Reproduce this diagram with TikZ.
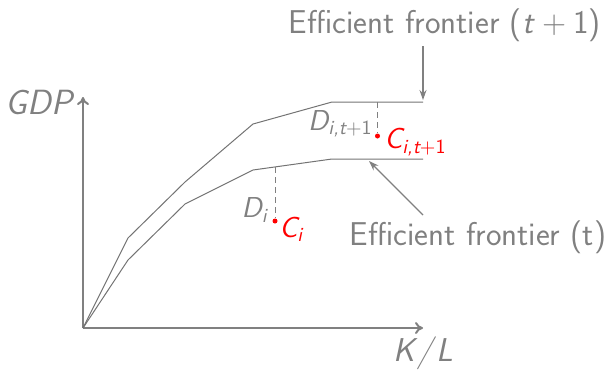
\documentclass[tikz,border=0pt]{standalone}
\usepackage{amsmath}
\usetikzlibrary{arrows.meta}
\definecolor{fg}{gray}{0.5}
\definecolor{ln}{gray}{0.45}
\tikzset{
  axis/.style={draw=fg, line width=1pt, -{To[length=4pt,width=6pt]}},
  frontier/.style={draw=ln, line width=0.5pt},
  drop/.style={draw=fg, line width=0.4pt, dash pattern=on 3pt off 2pt},
  pointer/.style={draw=fg, line width=0.6pt, -{Stealth[length=5pt,width=3.5pt]}},
  big/.style={text=fg, font=\sffamily\fontsize{16.5}{18}\selectfont, inner sep=0pt},
  small/.style={font=\sffamily\fontsize{14.4}{16}\selectfont, inner sep=0pt},
  dot/.style={circle, fill=red, inner sep=0pt, minimum size=2.5pt}
}
\begin{document}
\begin{tikzpicture}[x=0.5pt,y=-0.5pt]
\useasboundingbox (0,0) rectangle (608,370);
% axes
\coordinate (O) at (83,328);
\coordinate (Ytop) at (83,97);
\coordinate (Xend) at (423,328);
\draw[axis] (O) -- (Ytop);
\draw[axis] (O) -- (Xend);
\node[big, font=\sffamily\fontsize{17.5}{19}\selectfont] (gdp) at (39,102) {\itshape GDP};
\node[big] (kl) at (423,353) {\itshape K\kern1.5pt/\kern1.5pt L};
% frontiers
\draw[frontier] (O) -- (128,238) -- (185,182) -- (253,124) -- (332,102) -- (423,102) coordinate (U);
\draw[frontier] (O) -- (128,260) -- (185,204) -- (253,170) -- (332,159) -- (423,159) coordinate (L);
% points
\coordinate (du) at (377.5,102);
\node[dot] (cu) at (377.5,136) {};
\draw[drop] (du) -- (cu);
\coordinate (dl) at (275,167);
\node[dot] (cl) at (275,221) {};
\draw[drop] (dl) -- (cl);
\node[small, text=fg, anchor=east] (Dut) at (373,124) {$\textit{D}_{\text{\itshape i,t}\text{+1}}$};
\node[small, text=red, anchor=west] (Cut) at (384,142) {$\textit{C}_{\text{\itshape i,t}\text{+1}}$};
\node[small, text=fg, anchor=east] (Di) at (268,210) {$\textit{D}_{\text{\itshape i}}$};
\node[small, text=red, anchor=west] (Ci) at (279,229) {$\textit{C}_{\text{\itshape i}}$};
% labels
\node[big] (ft1) at (445,25) {Efficient frontier (\textit{t}\kern0.22em+\kern0.22em1)};
\node[big] (ft) at (478,237) {Efficient frontier (t)};
\coordinate (tipU) at (423,100);
\coordinate (tipL) at (369,161);
\draw[pointer] (423,46) -- (tipU);
\draw[pointer] (423,215) -- (tipL);
\end{tikzpicture}
\end{document}
